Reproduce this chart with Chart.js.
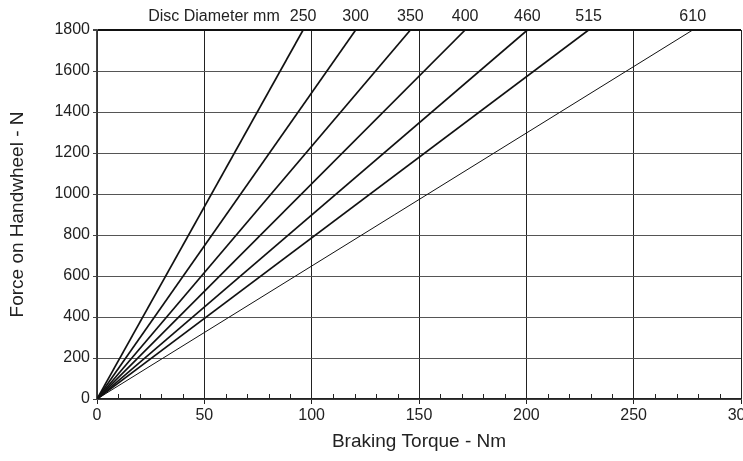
<!DOCTYPE html>
<html lang="en">

<head>
    <meta charset="UTF-8">
    <title>Force on Handwheel vs Braking Torque</title>
    <script src="https://cdn.jsdelivr.net/npm/chart.js"></script>
    <style>
        body {
            margin: 0;
            padding: 0;
            background: #fff;
        }

        .box {
            width: 743px;
            height: 461px;
        }
    </style>
</head>

<body>
    <div class="box">
        <canvas id="myChart"></canvas>
    </div>

    <script>
        // disc diameters (mm) and the torque each line reaches at 1800 N
        const diameters = ['250', '300', '350', '400', '460', '515', '610'];
        const torqueAtMax = [96, 120.5, 146, 171.5, 200.5, 229, 277.5];
        const maxForce = 1800;
        const lineWidths = [1.7, 1.7, 1.7, 1.7, 1.7, 1.7, 1];
        const headerText = 'Disc Diameter mm';

        const fontFamily = '"Liberation Sans", Arial, sans-serif';
        const textColor = '#222';

        const datasets = diameters.map((d, i) => ({
            label: d,
            data: [{ x: 0, y: 0 }, { x: torqueAtMax[i], y: maxForce }],
            borderColor: '#111',
            borderWidth: lineWidths[i],
            pointRadius: 0,
            fill: false
        }));

        // little minor ticks every 10 Nm, sitting just above the x axis
        const minorTicks = {
            id: 'minorTicks',
            afterDraw(chart) {
                const x = chart.scales.x;
                const ctx = chart.ctx;
                const y0 = chart.chartArea.bottom;
                ctx.save();
                ctx.strokeStyle = '#222';
                ctx.lineWidth = 1;
                for (let v = 10; v < 300; v += 10) {
                    if (v % 50 === 0) continue;
                    const px = Math.round(x.getPixelForValue(v)) + 0.5;
                    ctx.beginPath();
                    ctx.moveTo(px, y0);
                    ctx.lineTo(px, y0 - 5);
                    ctx.stroke();
                }
                ctx.restore();
            }
        };

        // diameter labels above the top end of each line
        const topLabels = {
            id: 'topLabels',
            afterDatasetsDraw(chart) {
                const ctx = chart.ctx;
                const top = chart.chartArea.top;
                ctx.save();
                ctx.font = '16px ' + fontFamily;
                ctx.fillStyle = textColor;
                ctx.textBaseline = 'middle';
                ctx.textAlign = 'center';
                let firstX = null;
                chart.data.datasets.forEach((ds, i) => {
                    const pt = chart.getDatasetMeta(i).data[1];
                    ctx.fillText(ds.label, pt.x, top - 13);
                    if (i === 0) firstX = pt.x - ctx.measureText(ds.label).width / 2;
                });
                ctx.textAlign = 'right';
                ctx.fillText(headerText, firstX - 10, top - 13);
                ctx.restore();
            }
        };

        const canvas = document.getElementById('myChart');
        const ctx = canvas.getContext('2d');

        const chart = new Chart(ctx, {
            type: 'line',
            data: { datasets: datasets },
            plugins: [minorTicks, topLabels],
            options: {
                responsive: true,
                maintainAspectRatio: false,
                animation: false,
                devicePixelRatio: 1,
                layout: {
                    padding: { top: 30, right: 2, left: 0, bottom: 0 }
                },
                plugins: {
                    legend: { display: false },
                    tooltip: { enabled: false }
                },
                scales: {
                    x: {
                        type: 'linear',
                        min: 0,
                        max: 300,
                        ticks: {
                            stepSize: 50,
                            maxRotation: 0,
                            padding: 2,
                            color: textColor,
                            font: { family: fontFamily, size: 16 }
                        },
                        grid: {
                            color: '#222',
                            lineWidth: 1,
                            tickLength: 5,
                            tickColor: '#222'
                        },
                        border: { color: '#222', width: 1.5 },
                        title: {
                            display: true,
                            text: 'Braking Torque - Nm',
                            color: textColor,
                            font: { family: fontFamily, size: 19 },
                            padding: { top: 0, bottom: 8 }
                        },
                        afterFit(scale) {
                            scale.height = 62;
                            scale.paddingRight = 0;
                            scale.paddingLeft = 0;
                        }
                    },
                    y: {
                        min: 0,
                        max: maxForce,
                        ticks: {
                            stepSize: 200,
                            padding: 3,
                            color: textColor,
                            font: { family: fontFamily, size: 16 },
                            callback: v => String(v)
                        },
                        grid: {
                            color: ctx => ctx.tick && ctx.tick.value === maxForce ? '#111' : '#555',
                            lineWidth: ctx => ctx.tick && ctx.tick.value === maxForce ? 2 : 1,
                            tickLength: 4,
                            tickColor: '#444'
                        },
                        border: { color: '#444', width: 1.5 },
                        title: {
                            display: true,
                            text: 'Force on Handwheel - N',
                            color: textColor,
                            font: { family: fontFamily, size: 19 },
                            padding: { top: 6, bottom: 0 }
                        },
                        afterFit(scale) {
                            scale.width = 97;
                        }
                    }
                }
            }
        });
    </script>

</body>

</html>
